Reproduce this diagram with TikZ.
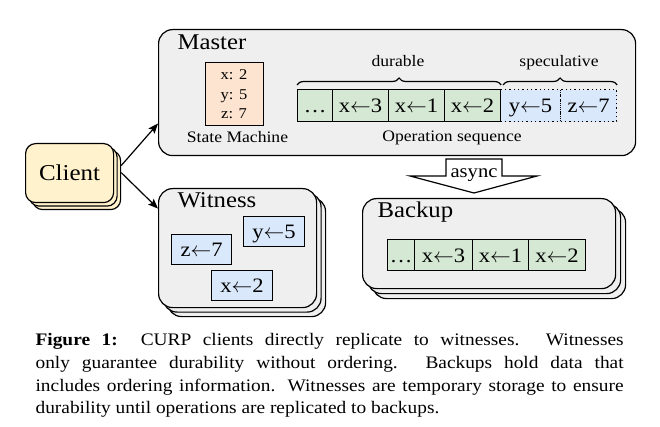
\documentclass[tikz,border=0pt]{standalone}
\usepackage{fontspec}
\setmainfont{Liberation Serif}[FakeStretch=1.1]
\usetikzlibrary{decorations.pathreplacing,arrows.meta}
\definecolor{bggray}{HTML}{EFEFEF}
\definecolor{cpeach}{HTML}{FCE4D0}
\definecolor{cgreen}{HTML}{D5E8D4}
\definecolor{cblue}{HTML}{DAE8FC}
\definecolor{cyellow}{HTML}{FFF2CC}
\newcommand\fTitle{\fontsize{22.5}{26}\selectfont}
\newcommand\fClient{\fontsize{22.7}{26}\selectfont}
\newcommand\fCell{\fontsize{20.5}{24}\selectfont}
\newcommand\fLabel{\fontsize{16}{19}\selectfont}
\newcommand\fState{\fontsize{15}{18}\selectfont}
\newcommand\fAsync{\fontsize{18.7}{22}\selectfont}
\newcommand\fCap{\fontsize{17.6}{22.6}\selectfont}
\newcommand\asg[2]{#1$\leftarrow$#2}
\begin{document}
\begin{tikzpicture}[x=1pt,y=-1pt,line width=1.2pt,
  panel/.style={draw, fill=bggray, rounded corners=14pt, anchor=north west, inner sep=0pt},
  clientbox/.style={draw, fill=cyellow, rounded corners=10pt, anchor=north west, inner sep=0pt,
    minimum width=88pt, minimum height=59pt},
  cellbase/.style={draw, anchor=north west, inner sep=0pt, font=\fCell, text height=16pt, text depth=2pt},
  gcell/.style={cellbase, fill=cgreen},
  bcell/.style={cellbase, fill=cblue},
  dcell/.style={cellbase, fill=cblue, dash pattern=on 1.3pt off 3pt},
  label/.style={font=\fLabel, anchor=base, inner sep=0pt},
  title/.style={font=\fTitle, anchor=base west, inner sep=0pt},
  conn/.style={-{Stealth[length=10pt,width=8pt,inset=2pt]}, line width=1.2pt},
  brc/.style={decorate, decoration={brace, amplitude=7pt}, line width=1.2pt}
]
\path[use as bounding box] (0,0) rectangle (660,427);

% ---------- Master ----------
\node[panel, minimum width=477pt, minimum height=126pt] (master) at (158,29) {};
\node[title] (mastertitle) at (177,50) {Master};
\node[draw, fill=cpeach, anchor=north west, inner sep=0pt, minimum width=58pt, minimum height=63pt] (state) at (205,62) {};
\node[font=\fState, anchor=base, inner sep=0pt] (sx) at (234,80) {x: 2};
\node[font=\fState, anchor=base, inner sep=0pt] (sy) at (234,99.5) {y: 5};
\node[font=\fState, anchor=base, inner sep=0pt] (sz) at (234,119) {z: 7};
\node[label] (statelabel) at (237.5,143) {State Machine};

\node[dcell, minimum width=60pt, minimum height=32pt] (m5) at (500,89) {\asg{y}{5}};
\node[dcell, minimum width=56pt, minimum height=32pt] (m6) at (560,89) {\asg{z}{7}};
\node[gcell, minimum width=35pt, minimum height=32pt] (m1) at (297,89) {…};
\node[gcell, minimum width=56pt, minimum height=32pt] (m2) at (332,89) {\asg{x}{3}};
\node[gcell, minimum width=56pt, minimum height=32pt] (m3) at (388,89) {\asg{x}{1}};
\node[gcell, minimum width=56pt, minimum height=32pt] (m4) at (444,89) {\asg{x}{2}};

\draw[brc] ([yshift=4pt]m1.north west) -- ([yshift=4pt]m4.north east);
\draw[brc] ([xshift=3pt,yshift=4pt]m5.north west) -- ([yshift=4pt]m6.north east);
\node[label] (durable) at (398,67) {durable};
\node[label] (speculative) at (559,67) {speculative};
\node[label] (opseq) at (452,142) {Operation sequence};

% ---------- async arrow ----------
\draw[fill=white, line width=1.2pt, line join=miter]
  (446,159) -- (502,159) -- (502,176) -- (537,176) -- (474,193) -- (410,176) -- (446,176) -- cycle;
\node[font=\fAsync, anchor=base, inner sep=0pt] (async) at (474,178) {async};

% ---------- Client ----------
\node[clientbox] (client3) at (32,150) {};
\node[clientbox] (client2) at (28.5,146.5) {};
\node[clientbox, font=\fClient] (client) at (25,143) {Client};

% ---------- Witness ----------
\node[panel, minimum width=158pt, minimum height=119pt] (witness3) at (167,197) {};
\node[panel, minimum width=158pt, minimum height=119pt] (witness2) at (162.5,192.5) {};
\node[panel, minimum width=158pt, minimum height=119pt] (witness) at (158,188) {};
\node[title] (witnesstitle) at (177,208) {Witness};
\node[bcell, minimum width=61pt, minimum height=30pt] (wy) at (243,216) {\asg{y}{5}};
\node[bcell, minimum width=60pt, minimum height=30pt] (wz) at (171,234) {\asg{z}{7}};
\node[bcell, minimum width=61pt, minimum height=30pt] (wx) at (211,270) {\asg{x}{2}};

% ---------- Backup ----------
\node[panel, minimum width=253pt, minimum height=90pt] (backup3) at (372,208) {};
\node[panel, minimum width=253pt, minimum height=90pt] (backup2) at (367,203) {};
\node[panel, minimum width=253pt, minimum height=90pt] (backup) at (362,198) {};
\node[title] (backuptitle) at (377,218) {Backup};
\node[gcell, minimum width=27pt, minimum height=31pt] (b1) at (387,239) {…};
\node[gcell, minimum width=58pt, minimum height=31pt] (b2) at (414,239) {\asg{x}{3}};
\node[gcell, minimum width=56pt, minimum height=31pt] (b3) at (472,239) {\asg{x}{1}};
\node[gcell, minimum width=57pt, minimum height=31pt] (b4) at (528,239) {\asg{x}{2}};

% ---------- connectors ----------
\draw[conn] ([yshift=14.5pt]client3.east) -- ([yshift=-31pt]master.west);
\draw[conn] ([yshift=7.5pt]client3.east) -- ([yshift=39.5pt]witness.west);

% ---------- caption ----------
\node[anchor=north west, inner sep=0pt, text width=588pt, align=justify, font=\fCap] (caption) at (35,333)
{\setlength\baselineskip{22.6pt}\hyphenpenalty=10000\exhyphenpenalty=10000\emergencystretch=20pt
\textbf{Figure 1:}\ \ CURP clients directly replicate to witnesses. Witnesses\linebreak
only guarantee durability without ordering. Backups hold data that\linebreak
includes ordering information. Witnesses are temporary storage to ensure\linebreak
durability until operations are replicated to backups.\par};
\end{tikzpicture}
\end{document}
